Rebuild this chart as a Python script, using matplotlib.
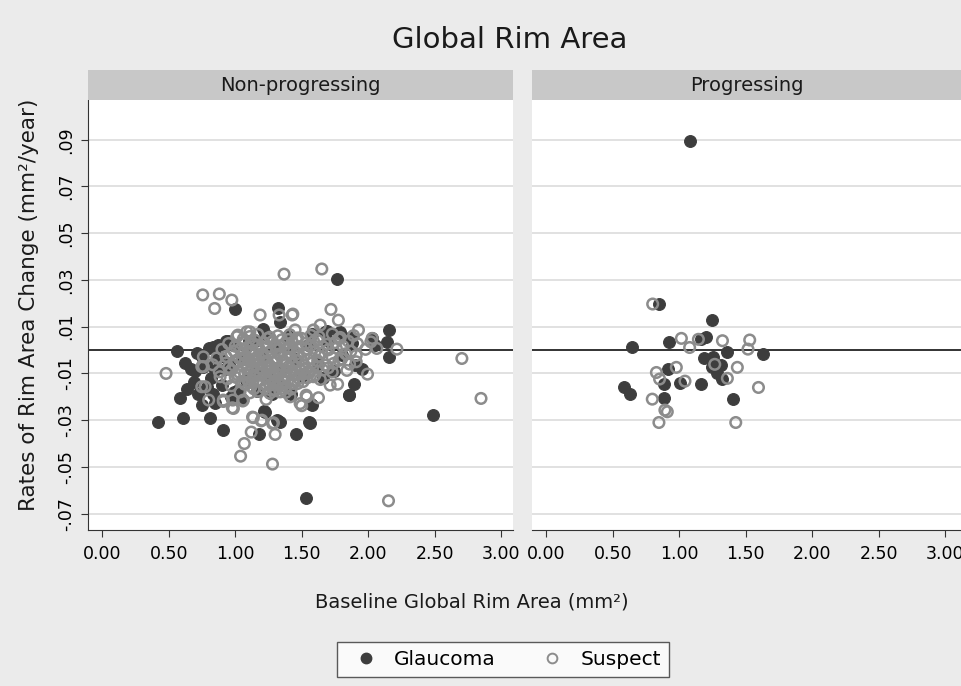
import matplotlib
matplotlib.use("Agg")
import matplotlib.pyplot as plt
from matplotlib.lines import Line2D

plt.rcParams['font.family'] = ['DejaVu Sans']

# Non-progressing: glaucoma (filled)
np_glau_x = [0.42, 0.56, 0.62, 0.667, 0.69, 0.635, 0.584, 0.61, 0.72, 0.75, 0.81, 0.906, 1.0, 1.18,
             1.32, 1.458, 1.32, 1.337, 1.207, 0.946, 0.80, 0.835, 0.75, 0.76, 0.848, 0.785, 0.835,
             0.966, 0.848, 1.224, 1.769, 2.153, 2.145, 2.153, 2.49, 1.533, 1.89, 1.857, 1.576,
             1.563, 1.337, 1.784, 1.689, 1.87, 1.9, 2.03, 1.676, 1.789, 0.71, 0.86, 0.948,
             1.568, 1.558, 1.317, 1.217, 1.162, 1.852,
             1.10, 1.20, 1.30, 1.35, 1.25, 1.45, 1.55, 1.62, 1.40, 1.15, 1.05, 0.98, 1.70, 1.80,
             1.50, 1.32, 1.22, 1.58, 1.88, 1.95, 2.05, 1.08, 0.92, 0.88, 1.02, 1.66, 1.74, 1.42,
             0.78, 0.82, 0.90, 0.95, 0.87, 0.70, 0.93, 1.15, 1.28, 1.05, 0.99]
np_glau_y = [-0.0309, -0.0004, -0.0054, -0.008, -0.0137, -0.0168, -0.0203, -0.029, -0.0188, -0.0235,
             -0.029, -0.034, 0.0174, -0.036, -0.0305, -0.036, 0.0179, 0.0119, 0.0089, 0.0039,
             0.001, 0.0014, -0.003, -0.0071, -0.0086, -0.0157, -0.0186, -0.020, -0.0228, -0.0264,
             0.0304, 0.0086, 0.0036, -0.0029, -0.028, -0.0635, -0.0147, -0.0193, -0.0233,
             -0.0314, -0.0307, 0.0074, 0.0083, 0.0057, -0.0064, 0.005, 0.0078, 0.0078, -0.0014,
             -0.0036, 0.0028, -0.0231, -0.0307, -0.030, -0.026, -0.0174, -0.0193,
             0.004, -0.002, 0.001, -0.008, -0.012, -0.004, 0.002, -0.006, 0.006, -0.009, -0.004,
             0.002, 0.004, -0.002, -0.011, -0.015, 0.007, 0.007, 0.003, -0.008, 0.002, -0.013,
             -0.008, -0.003, -0.017, -0.012, -0.009, -0.019,
             -0.006, -0.012, -0.015, -0.006, 0.002, -0.009, 0.004, 0.004, -0.019, -0.021, -0.018]

# Non-progressing: suspect (hollow)
np_susp_x = [0.755, 0.88, 0.845, 0.974, 1.187, 1.428, 1.367, 1.651, 1.72, 1.776, 1.927, 2.065,
             2.216, 2.705, 2.849, 2.153, 1.995, 1.626, 1.533, 1.5, 1.433, 1.714, 1.77, 1.91,
             1.588, 1.45, 0.479, 0.978, 1.13, 1.195, 1.12, 1.068, 1.04, 1.28, 1.30, 1.28, 0.91,
             1.056, 0.748, 0.76, 1.33, 1.639, 1.11, 1.5, 1.011, 1.087, 2.03, 0.8, 0.773, 0.886,
             0.91, 0.986, 0.981, 0.76, 0.748, 1.061, 1.136, 1.2, 1.287, 1.232, 1.488, 1.538,
             1.413, 1.337, 1.588, 1.55, 1.036, 1.099, 1.438,
             1.02, 1.11, 1.17, 1.26, 1.32, 1.41, 1.47, 1.57, 1.63, 1.73, 1.79, 1.89,
             0.95, 1.06, 1.13, 1.22, 1.28, 1.37, 1.43, 1.53, 1.59, 1.69, 1.75, 1.85, 1.92, 2.02,
             0.90, 0.99, 1.04, 1.13, 1.18, 1.27, 1.31, 1.39, 1.44, 1.54, 1.60, 1.70, 1.76, 1.87, 1.98,
             0.86, 0.93, 1.03, 1.08, 1.16, 1.21, 1.29, 1.34, 1.42, 1.47, 1.57, 1.63, 1.73, 1.80, 1.91,
             0.83, 0.93, 0.99, 1.07, 1.14, 1.18, 1.26, 1.30, 1.38, 1.43, 1.52, 1.58, 1.68, 1.74, 1.86,
             0.88, 0.97, 1.03, 1.12, 1.16, 1.24, 1.28, 1.36, 1.41, 1.50, 1.56, 1.66, 1.73, 1.84,
             0.94, 1.00, 1.09, 1.14, 1.23, 1.27, 1.35, 1.39, 1.48, 1.54, 1.64,
             0.97, 1.07, 1.12, 1.21, 1.26, 1.34, 1.38, 1.47,
             1.11, 1.17, 1.26, 1.30, 1.38,
             1.15, 1.24, 1.33, 1.21, 1.29, 1.36, 1.19, 1.31, 1.25, 1.44, 1.10, 1.40,
             1.06, 1.15, 1.24, 1.35, 1.46, 1.62, 1.78,
             1.00, 1.09, 1.17, 1.24, 1.33, 1.41, 1.49, 1.57, 1.66, 1.81,
             0.97, 1.06, 1.12, 1.20, 1.25, 1.33, 1.40, 1.47, 1.52, 1.65, 1.83,
             1.00, 1.05, 1.11, 1.17, 1.24, 1.31, 1.36, 1.46, 1.55, 1.62, 1.78,
             0.95, 1.09, 1.13, 1.20, 1.27, 1.33, 1.40, 1.45, 1.53, 1.62, 1.70,
             1.02, 1.07, 1.14, 1.19, 1.26, 1.31, 1.37, 1.45, 1.52, 1.60,
             1.05, 1.11, 1.18, 1.25, 1.30, 1.37, 1.44, 1.51,
             1.14, 1.22, 1.29, 1.35, 1.42]
np_susp_y = [0.0236, 0.024, 0.0178, 0.0214, 0.015, 0.015, 0.0325, 0.0347, 0.0174, 0.0128, 0.0086,
             0.0007, 0.0004, -0.0036, -0.0207, -0.0645, -0.0103, -0.0204, -0.0193, -0.0238, 0.0154,
             -0.015, -0.0146, -0.005, 0.0086, 0.0086, -0.01, -0.0247, -0.0287, -0.0303, -0.0351,
             -0.04, -0.0454, -0.0488, -0.0361, -0.0314, -0.0214, -0.0218, -0.0157, -0.0071, 0.015,
             0.0107, 0.0078, 0.005, 0.0057, 0.0078, 0.005, -0.0214, -0.0157, -0.0114, -0.022,
             -0.025, -0.0214, -0.0029, -0.0071, -0.0214, -0.0289, -0.03, -0.0311, -0.0211,
             -0.0229, -0.02, -0.02, -0.0179, -0.0114, -0.0093, -0.0179, -0.0136, -0.0143,
             0.0064, 0.0058, 0.0067, 0.0055, 0.0061, 0.0066, 0.0052, 0.0063, 0.0057, 0.0069, 0.0054, 0.0062,
             0.0028, 0.0034, 0.0025, 0.0031, 0.0037, 0.0026, 0.0033, 0.0029, 0.0036, 0.0024, 0.0032, 0.0038, 0.0027, 0.0035,
             0.0003, -0.0004, 0.0006, -0.0002, 0.0004, -0.0006, 0.0002, 0.0007, -0.0003, 0.0005, -0.0007, 0.0001, 0.0008, -0.0005, 0.0003,
             -0.0034, -0.0027, -0.0036, -0.0025, -0.0032, -0.0029, -0.0037, -0.0024, -0.0033, -0.0028, -0.0035, -0.0026, -0.0031, -0.0038, -0.0023,
             -0.0063, -0.0056, -0.0065, -0.0054, -0.0061, -0.0058, -0.0067, -0.0053, -0.0062, -0.0059, -0.0066, -0.0055, -0.0064, -0.0057, -0.0060,
             -0.0093, -0.0086, -0.0095, -0.0084, -0.0091, -0.0088, -0.0097, -0.0083, -0.0092, -0.0089, -0.0096, -0.0085, -0.0094, -0.0087,
             -0.0123, -0.0116, -0.0125, -0.0114, -0.0121, -0.0118, -0.0127, -0.0113, -0.0122, -0.0119, -0.0126,
             -0.0153, -0.0146, -0.0155, -0.0144, -0.0151, -0.0148, -0.0157, -0.0143,
             -0.0183, -0.0176, -0.0185, -0.0174, -0.0181,
             -0.0045, -0.0075, -0.0105, -0.0015, -0.0135, -0.0045, -0.0105, 0.0015, -0.0075, -0.0105, -0.0045, 0.0045,
             0.0047, 0.0042, 0.0049, 0.0044, 0.0046, 0.0041, 0.0048,
             0.0016, 0.0012, 0.0018, 0.0013, 0.0017, 0.0011, 0.0015, 0.0019, 0.0014, 0.0016,
             -0.0014, -0.0018, -0.0012, -0.0016, -0.0013, -0.0017, -0.0011, -0.0015, -0.0019, -0.0013, -0.0016,
             -0.0046, -0.0042, -0.0048, -0.0044, -0.0047, -0.0043, -0.0049, -0.0045, -0.0041, -0.0046, -0.0044,
             -0.0074, -0.0078, -0.0072, -0.0077, -0.0073, -0.0076, -0.0071, -0.0075, -0.0079, -0.0073, -0.0076,
             -0.0106, -0.0102, -0.0108, -0.0104, -0.0107, -0.0103, -0.0109, -0.0105, -0.0101, -0.0106,
             -0.0134, -0.0138, -0.0132, -0.0137, -0.0133, -0.0136, -0.0131, -0.0135,
             -0.0166, -0.0162, -0.0168, -0.0164, -0.0167]

# Progressing: glaucoma (filled)
pr_glau_x = [1.084, 0.85, 1.249, 0.642, 0.922, 1.199, 1.161, 1.362, 1.633, 1.186, 1.257, 1.25,
             1.312, 1.287, 1.325, 0.915, 0.584, 0.629, 0.885, 1.003, 1.161, 0.885, 1.404]
pr_glau_y = [0.0895, 0.0197, 0.0128, 0.0014, 0.0033, 0.0054, 0.0046, -0.001, -0.0017, -0.0036,
             -0.0029, -0.0074, -0.0064, -0.010, -0.0124, -0.0083, -0.0157, -0.0188, -0.0146,
             -0.0139, -0.0146, -0.0203, -0.021]

# Progressing: suspect (hollow)
pr_susp_x = [0.80, 1.016, 1.144, 1.325, 1.53, 1.517, 1.078, 1.267, 1.437, 0.978, 0.828, 0.852,
             1.043, 1.362, 1.596, 0.797, 0.892, 0.91, 0.847, 1.425]
pr_susp_y = [0.0197, 0.005, 0.0046, 0.004, 0.0043, 0.0004, 0.0011, -0.0061, -0.0074, -0.0074,
             -0.0096, -0.0124, -0.0133, -0.0121, -0.016, -0.021, -0.0257, -0.0264, -0.031, -0.031]

panel_titles = ["Non-progressing", "Progressing"]
x_ticks = [0.0, 0.5, 1.0, 1.5, 2.0, 2.5, 3.0]
y_ticks = [-0.07, -0.05, -0.03, -0.01, 0.01, 0.03, 0.05, 0.07, 0.09]
y_tick_labels = ["-.07", "-.05", "-.03", "-.01", ".01", ".03", ".05", ".07", ".09"]

bg = "#ebebeb"
glau_col = "#3d3d3d"
susp_col = "#8c8c8c"

fig = plt.figure(figsize=(9.62, 6.86), dpi=100, facecolor=bg)

ax1 = fig.add_axes([0.0915, 0.2274, 0.4418, 0.6268])
ax2 = fig.add_axes([0.553, 0.2274, 0.4460, 0.6268])

data = [(np_glau_x, np_glau_y, np_susp_x, np_susp_y),
        (pr_glau_x, pr_glau_y, pr_susp_x, pr_susp_y)]

for i, ax in enumerate([ax1, ax2]):
    gx, gy, sx, sy = data[i]
    ax.set_facecolor("white")
    ax.set_xlim(-0.108, 3.09 if i == 0 else 3.12)
    ax.set_ylim(-0.077, 0.107)
    for t in y_ticks:
        ax.axhline(t, color="#dedede", lw=1.3, zorder=0)
    ax.axhline(0, color="#333333", lw=1.4, zorder=1)
    ax.scatter(gx, gy, s=72, color=glau_col, edgecolors=glau_col, linewidths=0.8, zorder=2)
    ax.scatter(sx, sy, s=58, facecolors="none", edgecolors=susp_col, linewidths=1.8, zorder=3)
    ax.set_xticks(x_ticks)
    ax.set_xticklabels(["%.2f" % v for v in x_ticks], fontsize=12.5)
    ax.set_yticks(y_ticks)
    ax.tick_params(axis="x", direction="out", length=5, color="#333333", pad=6)
    for s in ["top", "right"]:
        ax.spines[s].set_visible(False)
    ax.spines["bottom"].set_color("#333333")
    if i == 0:
        ax.set_yticklabels(y_tick_labels, fontsize=12.5, rotation=90, va="center")
        ax.tick_params(axis="y", direction="out", length=5, color="#333333", pad=4)
        ax.spines["left"].set_color("#333333")
    else:
        ax.set_yticklabels([])
        ax.tick_params(axis="y", length=0)
        ax.spines["left"].set_visible(False)

    # strip header
    pos = ax.get_position()
    fig.patches.append(plt.Rectangle((pos.x0, 0.8542), pos.width, 0.0437,
                                     transform=fig.transFigure, facecolor="#c8c8c8",
                                     edgecolor="none"))
    fig.text(pos.x0 + pos.width / 2, 0.8542 + 0.0437 / 2, panel_titles[i],
             ha="center", va="center", fontsize=14, color="#1a1a1a")

fig.text(0.53, 0.942, "Global Rim Area", ha="center", va="center", fontsize=21, color="#1a1a1a")
fig.text(0.49, 0.123, "Baseline Global Rim Area (mm²)", ha="center", va="center",
         fontsize=14, color="#1a1a1a")
fig.text(0.03, 0.555, "Rates of Rim Area Change (mm²/year)", ha="center", va="center",
         rotation=90, fontsize=15.5, color="#1a1a1a")

handles = [Line2D([], [], marker="o", ls="none", markersize=7.5, color=glau_col),
           Line2D([], [], marker="o", ls="none", markersize=7, markerfacecolor="none",
                  markeredgecolor=susp_col, markeredgewidth=1.4)]
leg = fig.legend(handles, ["Glaucoma", "Suspect"], loc="center", bbox_to_anchor=(0.523, 0.038),
                 ncol=2, fontsize=14.5, frameon=True, fancybox=False, handletextpad=0.4,
                 columnspacing=1.8, borderpad=0.4)
leg.get_frame().set_edgecolor("#333333")
leg.get_frame().set_facecolor("white")
leg.get_frame().set_linewidth(1.0)

fig.savefig("out.png", dpi=100, facecolor=bg)
